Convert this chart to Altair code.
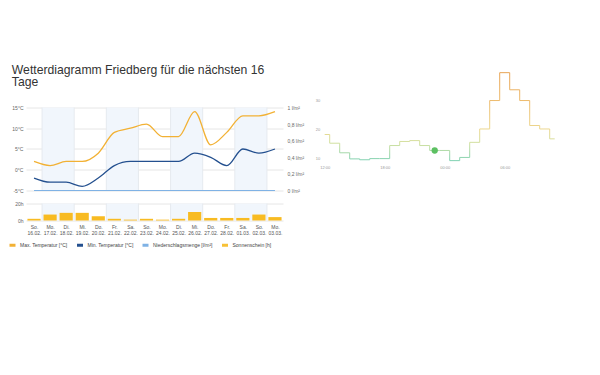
import altair as alt
import pandas as pd

# ---------------- data ----------------
days = ["So.", "Mo.", "Di.", "Mi.", "Do.", "Fr.", "Sa.", "So.",
        "Mo.", "Di.", "Mi.", "Do.", "Fr.", "Sa.", "So.", "Mo."]
dates = ["16.02.", "17.02.", "18.02.", "19.02.", "20.02.", "21.02.", "22.02.", "23.02.",
         "24.02.", "25.02.", "26.02.", "27.02.", "28.02.", "01.03.", "02.03.", "03.03."]
max_temp = [2, 1, 2, 2, 4, 9, 10, 11, 8, 8, 14, 6, 9, 13, 13, 14]
min_temp = [-2, -3, -3, -4, -2, 1, 2, 2, 2, 2, 4, 3, 1, 5, 4, 5]
precip = [0, 0, 0, 0, 0, 0, 0, 0, 0, 0, 0, 0, 0, 0, 0, 0]
sunshine = [2, 7, 9, 9, 5, 2, 1, 2, 1, 2, 10, 3, 3, 3, 7, 4]

series_names = ["Max. Temperatur [°C]", "Min. Temperatur [°C]",
                "Niederschlagsmenge [l/m²]", "Sonnenschein [h]"]
series_colors = ["#f2b134", "#24508f", "#7fb2e5", "#f7c136"]

hours = ["12:00", "13:00", "14:00", "15:00", "16:00", "17:00", "18:00", "19:00",
         "20:00", "21:00", "22:00", "23:00", "00:00", "01:00", "02:00", "03:00",
         "04:00", "05:00", "06:00", "07:00", "08:00", "09:00", "10:00", "11:00"]
hour_values = [18.3, 15.3, 12.0, 9.9, 9.6, 10.0, 10.0, 14.5, 15.9, 16.2, 14.5, 12.8,
               12.8, 9.3, 10.4, 15.6, 20.2, 30.0, 39.6, 33.7, 30.0, 21.4, 20.2, 16.8]
current_hour = "23:00"

FONT = "Liberation Sans"

# ---------------- tables ----------------
n = len(days)
df = pd.DataFrame({
    "idx": list(range(n)), "day": days, "date": dates,
    "max": max_temp, "min": min_temp, "precip": precip, "sun": sunshine,
})
shade_start = [i for i in range(1, n, 4)]
bands = pd.DataFrame({"a": [s - 0.5 for s in shade_start], "b": [s + 1.5 for s in shade_start]})
grid_x = pd.DataFrame({"g": [i + 0.5 for i in range(0, n - 1, 2)]})
hour_df = pd.DataFrame({"hour": hours, "v": hour_values})

xdom = alt.Scale(domain=[-0.5, n - 0.5], nice=False, zero=False)
t_scale = alt.Scale(domain=[-5, 23.67], nice=False, zero=False)
p_scale = alt.Scale(domain=[0, 1.4337], nice=False, zero=False)
color_scale = alt.Scale(domain=series_names, range=series_colors)
BAND = "#f1f6fc"
GRIDV = "#e6eaef"

temp_axis = alt.Axis(
    values=[-5, 0, 5, 10, 15], labelExpr="datum.value + '°C'", grid=True,
    gridColor="#e6e6e6", domain=False, ticks=False, labelFontSize=5,
    labelColor="#666", labelPadding=3, title=None, labelOverlap=False,
    labelBound=False, labelFlush=False)

# ---------------- temperature panel ----------------
band_layer = alt.Chart(bands).mark_rect(color=BAND).encode(
    x=alt.X("a:Q", scale=xdom, axis=None), x2="b:Q",
    y=alt.Y("lo:Q", scale=t_scale, axis=temp_axis), y2="hi:Q",
).transform_calculate(lo="-5", hi="15")

vrule_layer = alt.Chart(grid_x).mark_rule(color=GRIDV, strokeWidth=1).encode(
    x=alt.X("g:Q", scale=xdom, axis=None),
    y=alt.Y("lo:Q", scale=t_scale, axis=temp_axis), y2="hi:Q",
).transform_calculate(lo="-5", hi="15")

temp_lines = alt.Chart(df).transform_fold(
    ["max", "min"], as_=["k", "t"]
).transform_calculate(
    series=f"datum.k == 'max' ? '{series_names[0]}' : '{series_names[1]}'"
).mark_line(interpolate="monotone", strokeWidth=1.3).encode(
    x=alt.X("idx:Q", scale=xdom, axis=None),
    y=alt.Y("t:Q", scale=t_scale, axis=temp_axis),
    color=alt.Color("series:N", scale=color_scale, legend=alt.Legend(
        orient="none", legendX=-18, legendY=169, direction="horizontal", columns=4,
        title=None, labelFontSize=5, labelColor="#444", symbolType="stroke",
        symbolStrokeWidth=3, symbolSize=36, columnPadding=2.5, labelOffset=3,
        padding=0, labelFont=FONT, gridAlign="each")),
    detail="k:N",
)

temp_part = alt.layer(band_layer, vrule_layer, temp_lines)

precip_line = alt.Chart(df).transform_calculate(
    series=f"'{series_names[2]}'"
).mark_line(strokeWidth=1.2).encode(
    x=alt.X("idx:Q", scale=xdom, axis=None),
    y=alt.Y("precip:Q", scale=p_scale, axis=alt.Axis(
        orient="right", values=[0, 0.2, 0.4, 0.6, 0.8, 1],
        labelExpr="replace(format(datum.value, '.1~f'), '.', ',') + ' l/m²'",
        grid=False, domain=False, ticks=False, labelFontSize=5, labelColor="#666",
        labelPadding=4, title=None, labelOverlap=False)),
    color=alt.Color("series:N", scale=color_scale),
)

temp_chart = alt.layer(temp_part, precip_line).resolve_scale(y="independent").properties(
    width=257, height=119)

# ---------------- sunshine panel ----------------
s_scale = alt.Scale(domain=[0, 20], nice=False, zero=True)
label_arr = "[" + ",".join("['%s','%s']" % (d, dt) for d, dt in zip(days, dates)) + "]"
day_axis = alt.Axis(
    values=list(range(n)), labelExpr=label_arr + "[datum.value]",
    labelOverlap=False, labelBound=False, labelFlush=False,
    grid=False, domain=False, ticks=False, labelFontSize=5, labelColor="#555",
    labelPadding=4, labelLineHeight=6, title=None)
sun_axis = alt.Axis(
    values=[0, 20], labelExpr="datum.value + 'h'", grid=True, gridColor="#e6e6e6",
    domain=False, ticks=False, labelFontSize=5, labelColor="#666", labelPadding=3,
    title=None, labelOverlap=False)

sband = alt.Chart(bands).mark_rect(color=BAND).encode(
    x=alt.X("a:Q", scale=xdom, axis=day_axis), x2="b:Q",
    y=alt.Y("lo:Q", scale=s_scale, axis=sun_axis), y2="hi:Q",
).transform_calculate(lo="0", hi="20")

srule = alt.Chart(grid_x).mark_rule(color=GRIDV).encode(
    x=alt.X("g:Q", scale=xdom, axis=day_axis),
    y=alt.Y("lo:Q", scale=s_scale, axis=sun_axis), y2="hi:Q",
).transform_calculate(lo="0", hi="20")

bars = alt.Chart(df).transform_calculate(
    x1="datum.idx - 0.41", x2="datum.idx + 0.41"
).mark_rect(color="#f8bb22").encode(
    x=alt.X("x1:Q", scale=xdom, axis=day_axis), x2="x2:Q",
    y=alt.Y("sun:Q", scale=s_scale, axis=sun_axis), y2=alt.datum(0),
)

sun_chart = alt.layer(sband, srule, bars).properties(width=257, height=17)

left = alt.vconcat(temp_chart, sun_chart, spacing=13, bounds="flush").properties(
    title=alt.TitleParams(
        text=["Wetterdiagramm Friedberg für die nächsten 16", "Tage"],
        anchor="start", fontSize=12.2, fontWeight="normal", color="#333", font=FONT,
        lineHeight=12.5, offset=0, dy=17))

# ---------------- hourly step panel ----------------
grad = alt.Gradient(
    gradient="linear",
    stops=[alt.GradientStop(color="#7fd1b2", offset=0),
           alt.GradientStop(color="#cfe0a0", offset=0.19),
           alt.GradientStop(color="#ecd890", offset=0.35),
           alt.GradientStop(color="#edbb6d", offset=0.68),
           alt.GradientStop(color="#e8a455", offset=1)],
    x1=0, x2=0, y1=1, y2=0)

hx = alt.X("hour:O", sort=hours, scale=alt.Scale(type="point", padding=0),
           axis=alt.Axis(values=[hours[0], hours[6], hours[12], hours[18]],
                         labelAngle=0, domain=False, ticks=False, grid=False,
                         labelFontSize=4, labelColor="#999", labelPadding=4, title=None))
hy = alt.Y("v:Q", scale=alt.Scale(domain=[9, 40], nice=False, zero=False),
           axis=alt.Axis(values=[10, 20, 30], domain=False, ticks=False, grid=False,
                         labelFontSize=4, labelColor="#999", labelPadding=5, title=None,
                         labelOverlap=False))

step_line = alt.Chart(hour_df).mark_line(interpolate="step", stroke=grad, strokeWidth=1).encode(
    x=hx, y=hy)
dot = alt.Chart(hour_df).transform_filter(
    alt.datum.hour == current_hour
).mark_point(filled=True, color="#5cc062", size=40, opacity=1).encode(x=hx, y=hy)

right = alt.layer(step_line, dot).properties(width=230, height=90)

chart = alt.hconcat(left, right, spacing=298.7, bounds="flush").properties(
    padding={"top": 55.5, "left": 0, "right": 0, "bottom": 0}
).configure(font=FONT).configure_view(strokeWidth=0, stroke="transparent").configure_axis(
    labelOverlap=False)

chart.save("out.html", embed_options={"renderer": "svg", "actions": False})
